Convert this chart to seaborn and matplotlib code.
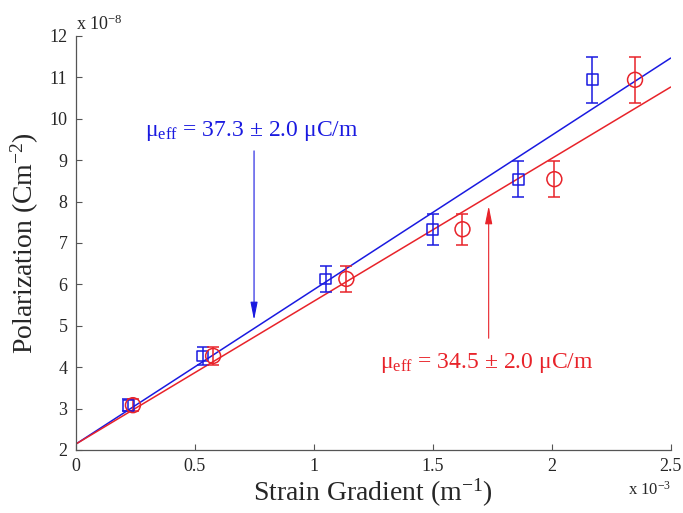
import numpy as np
import pandas as pd
import matplotlib
matplotlib.use("Agg")
import matplotlib.pyplot as plt
import seaborn as sns

# Measured data (x in 1e-3 m^-1, P in 1e-8 C m^-2)
strain_blue = [0.221, 0.533, 1.050, 1.499, 1.859, 2.171]
strain_red = [0.240, 0.577, 1.137, 1.625, 2.011, 2.350]
polarization = [3.08, 4.27, 6.13, 7.33, 8.54, 10.94]
pol_err = [0.15, 0.21, 0.31, 0.37, 0.43, 0.55]

# Linear fits: slope in uC/m, shared intercept (1e-8 C m^-2)
mu_blue = 37.3
mu_red = 34.5
mu_err = 2.0
intercept = 2.14

x_ticks = [0, 0.5, 1, 1.5, 2, 2.5]
x_tick_labels = ["0", "0.5", "1", "1.5", "2", "2.5"]
y_ticks = [2, 3, 4, 5, 6, 7, 8, 9, 10, 11, 12]

BLUE = "#1a1ae0"
RED = "#e8232a"

sns.set_theme(style="ticks")
plt.rcParams["font.family"] = ["Liberation Serif", "DejaVu Serif"]
plt.rcParams["mathtext.fontset"] = "custom"
plt.rcParams["mathtext.rm"] = "Liberation Serif"
plt.rcParams["mathtext.it"] = "Liberation Serif:italic"
plt.rcParams["mathtext.bf"] = "Liberation Serif:bold"
plt.rcParams["xtick.direction"] = "in"
plt.rcParams["ytick.direction"] = "in"

fig = plt.figure(figsize=(6.83, 5.13), dpi=100)
ax = fig.add_axes([0.111, 0.123, 0.871, 0.807])

# Fitted lines over the full axis range
x_fit = np.array([0.0, 2.5])
fits = pd.concat([
    pd.DataFrame({"x": x_fit, "y": intercept + mu_blue / 10 * x_fit, "s": "blue"}),
    pd.DataFrame({"x": x_fit, "y": intercept + mu_red / 10 * x_fit, "s": "red"}),
])
sns.lineplot(data=fits, x="x", y="y", hue="s", palette={"blue": BLUE, "red": RED},
             linewidth=1.1, legend=False, ax=ax, zorder=2)

# Error bars
ax.errorbar(strain_blue, polarization, yerr=pol_err, fmt="none", ecolor=BLUE,
            elinewidth=1.1, capsize=4, capthick=1.1, zorder=3)
ax.errorbar(strain_red, polarization, yerr=pol_err, fmt="none", ecolor=RED,
            elinewidth=1.1, capsize=4, capthick=1.1, zorder=3)

# Open markers
sns.scatterplot(x=strain_blue, y=polarization, marker="s", s=60,
                facecolor="none", edgecolor=BLUE, linewidth=1.1, ax=ax, zorder=4)
sns.scatterplot(x=strain_red, y=polarization, marker="o", s=115,
                facecolor="none", edgecolor=RED, linewidth=1.1, ax=ax, zorder=4)

# Annotations with arrows
ax.annotate("", xy=(0.749, 5.07), xytext=(0.749, 9.29),
            arrowprops=dict(arrowstyle="-|>,head_length=0.9,head_width=0.18",
                            color=BLUE, lw=0.8))
ax.text(0.29, 9.58, r"μ$_{\mathrm{eff}}$" + f" = {mu_blue} ± {mu_err} μC/m",
        color=BLUE, fontsize=17, va="baseline", ha="left")

ax.annotate("", xy=(1.735, 7.96), xytext=(1.735, 4.63),
            arrowprops=dict(arrowstyle="-|>,head_length=0.9,head_width=0.18",
                            color=RED, lw=0.8))
ax.text(1.28, 3.98, r"μ$_{\mathrm{eff}}$" + f" = {mu_red} ± {mu_err} μC/m",
        color=RED, fontsize=17, va="baseline", ha="left")

ax.set_xlim(0, 2.5)
ax.set_ylim(2, 12)
ax.set_xticks(x_ticks)
ax.set_xticklabels(x_tick_labels)
ax.set_yticks(y_ticks)
ax.tick_params(labelsize=13, length=4, width=0.8, color="#555555", pad=6)
for side in ["top", "right"]:
    ax.spines[side].set_visible(False)
for side in ["left", "bottom"]:
    ax.spines[side].set_color("#555555")
    ax.spines[side].set_linewidth(0.9)

ax.set_xlabel(r"Strain Gradient (m$^{-1}$)", fontsize=20, labelpad=1)
ax.set_ylabel(r"Polarization (Cm$^{-2}$)", fontsize=20, labelpad=6)

# Axis scale multipliers
ax.text(0.0, 1.005, r"x 10$^{-8}$", transform=ax.transAxes, fontsize=13,
        ha="left", va="bottom")
ax.text(1.0, -0.075, r"x 10$^{-3}$", transform=ax.transAxes, fontsize=12,
        ha="right", va="top")

fig.savefig("out.png", dpi=100)
